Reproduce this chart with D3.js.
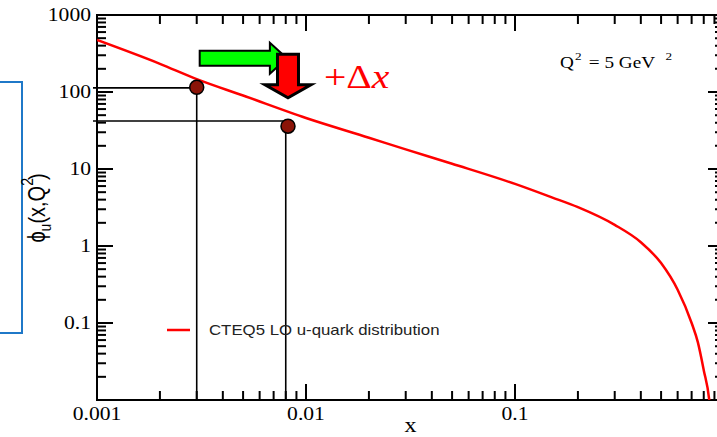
<!DOCTYPE html>
<html>
<head>
<meta charset="utf-8">
<script src="https://cdn.jsdelivr.net/npm/d3@7"></script>
<style>
  html, body { margin: 0; padding: 0; background: #fff; }
  svg { display: block; }
</style>
</head>
<body>
<svg id="chart" width="717" height="437"></svg>
<script>
// CTEQ5 LO u-quark distribution at Q^2 = 5 GeV^2
const xValues = [0.001, 0.002, 0.003, 0.005, 0.01, 0.02, 0.03, 0.05, 0.1, 0.15, 0.2, 0.3, 0.4, 0.5, 0.6, 0.7, 0.75, 0.8, 0.85, 0.87];
const uValues = [473, 232, 147, 90, 46, 25.5, 18.0, 11.7, 6.4, 4.28, 3.19, 1.88, 1.12, 0.60, 0.27, 0.10, 0.056, 0.0244, 0.010, 0.005];

// highlighted points and their guide lines
const markerX = [0.003, 0.0082];
const markerY = [115, 36];
const guideX = [0.003, 0.008];
const guideY = [113, 42];

// tick labels
const xTickLabels = ["0.001", "0.01", "0.1"];
const yTickLabels = ["0.1", "1", "10", "100", "1000"];

(function draw() {
const svg = d3.select("#chart");
const W = 717, H = 437;
const pL = 97, pR = 724, pT = 15, pB = 400;
const SX = 1.2; // horizontal text stretch

const x = d3.scaleLog().domain([0.001, 1]).range([pL, pR]);
const y = d3.scaleLog().domain([0.01, 1000]).range([pB, pT]);

svg.append("rect").attr("width", W).attr("height", H).attr("fill", "#fff");

// blue frame around the y title
svg.append("rect")
  .attr("x", -10).attr("y", 82).attr("width", 32).attr("height", 251)
  .attr("fill", "none").attr("stroke", "#1f78c8").attr("stroke-width", 2);

svg.append("defs").append("clipPath").attr("id", "plotclip")
  .append("rect").attr("x", pL).attr("y", pT).attr("width", pR - pL).attr("height", pB - pT);

// log ticks: majors at decades, minors at 2..9
function logTicks(lo, hi) {
  const out = [];
  for (let e = Math.round(Math.log10(lo)); e <= Math.round(Math.log10(hi)); e++) {
    for (let m = 1; m <= 9; m++) {
      const v = m * Math.pow(10, e);
      if (v >= lo * 0.999 && v <= hi * 1.001) out.push({ v, major: m === 1 });
    }
  }
  return out;
}
const xt = logTicks(0.001, 1);
const yt = logTicks(0.01, 1000);
const MAJ = 16, MIN = 9;
const axisG = svg.append("g").attr("stroke", "#000").attr("stroke-width", 2);

xt.forEach(t => {
  const px = x(t.v), L = t.major ? MAJ : MIN;
  axisG.append("line").attr("x1", px).attr("x2", px).attr("y1", pB).attr("y2", pB - L);
  axisG.append("line").attr("x1", px).attr("x2", px).attr("y1", pT).attr("y2", pT + L);
});
yt.forEach(t => {
  const py = y(t.v), L = t.major ? MAJ : MIN;
  axisG.append("line").attr("x1", pL).attr("x2", pL + L).attr("y1", py).attr("y2", py);
  axisG.append("line").attr("x1", pR).attr("x2", pR - L).attr("y1", py).attr("y2", py);
});
axisG.append("rect").attr("x", pL).attr("y", pT).attr("width", pR - pL).attr("height", pB - pT)
  .attr("fill", "none");

function stretchedText(px, py, str, opts) {
  const t = svg.append("text")
    .attr("transform", `translate(${px},${py}) scale(${SX},1)`)
    .attr("font-family", opts.family || "'Liberation Serif', 'Times New Roman', serif")
    .attr("font-size", opts.size)
    .attr("text-anchor", opts.anchor || "start")
    .attr("fill", opts.fill || "#000")
    .text(str);
  if (opts.style) t.attr("font-style", opts.style);
  return t;
}

// tick labels
xTickLabels.forEach(s => stretchedText(x(+s), 420, s, { size: 18, anchor: "middle" }));
yTickLabels.forEach(s => stretchedText(pL - 6, y(+s) + 6, s, { size: 18, anchor: "end" }));

// axis titles
stretchedText((pL + pR) / 2, 432, "x", { size: 20, anchor: "middle" });

const yl = svg.append("text")
  .attr("transform", `translate(45,208) scale(${SX},1) rotate(-90)`)
  .attr("font-family", "'Liberation Sans', Arial, sans-serif")
  .attr("font-size", 20)
  .attr("text-anchor", "middle")
  .attr("fill", "#000");
yl.append("tspan").text("\u03d5");
yl.append("tspan").attr("font-size", 14).attr("dy", 5).text("u");
yl.append("tspan").attr("dy", -5).text("(x,Q");
yl.append("tspan").attr("font-size", 14).attr("dy", -10).text("2");
yl.append("tspan").attr("dy", 10).attr("dx", -2).text(")");

// guide lines to the highlighted points
const guides = svg.append("g").attr("stroke", "#000").attr("stroke-width", 1.6);
guideX.forEach((gx, i) => {
  guides.append("line").attr("x1", pL - 4).attr("x2", x(gx)).attr("y1", y(guideY[i])).attr("y2", y(guideY[i]));
  guides.append("line").attr("x1", x(gx)).attr("x2", x(gx)).attr("y1", y(guideY[i])).attr("y2", pB);
});

// distribution curve
const line = d3.line().x((d, i) => x(xValues[i])).y(d => y(d)).curve(d3.curveMonotoneX);
svg.append("path")
  .attr("clip-path", "url(#plotclip)")
  .attr("d", line(uValues))
  .attr("fill", "none").attr("stroke", "#ff0000").attr("stroke-width", 2.5);

// highlighted points
markerX.forEach((mx, i) => {
  svg.append("circle").attr("cx", x(mx)).attr("cy", y(markerY[i])).attr("r", 7)
    .attr("fill", "#8b1408").attr("stroke", "#000").attr("stroke-width", 1.5);
});

// step arrows: horizontal shift in x, then drop along the curve
const gy = y(275), gx0 = x(0.0031), gx1 = x(0.0081);
const headL = 17, bodyH = 7.5, headH = 15.5;
svg.append("path")
  .attr("d", `M${gx0},${gy - bodyH} L${gx1 - headL},${gy - bodyH} L${gx1 - headL},${gy - headH} L${gx1},${gy} L${gx1 - headL},${gy + headH} L${gx1 - headL},${gy + bodyH} L${gx0},${gy + bodyH} Z`)
  .attr("fill", "#00ff00").attr("stroke", "#000").attr("stroke-width", 2);

const rx = x(0.0082), ry0 = y(310), ry1 = y(84);
const rBodyW = 10.5, rHeadW = 23, rHeadH = 13;
svg.append("path")
  .attr("d", `M${rx - rBodyW},${ry0} L${rx + rBodyW},${ry0} L${rx + rBodyW},${ry1 - rHeadH} L${rx + rHeadW},${ry1 - rHeadH} L${rx},${ry1} L${rx - rHeadW},${ry1 - rHeadH} L${rx - rBodyW},${ry1 - rHeadH} Z`)
  .attr("fill", "#ff0000").attr("stroke", "#000").attr("stroke-width", 3).attr("stroke-linejoin", "miter");

// +Δx annotation
const dt = svg.append("text")
  .attr("transform", `translate(324,88) scale(${SX},1)`)
  .attr("font-family", "'Liberation Serif', 'Times New Roman', serif")
  .attr("font-size", 33)
  .attr("fill", "#ff0000");
dt.append("tspan").text("+\u0394");
dt.append("tspan").attr("font-style", "italic").text("x");

// Q^2 label
const q = svg.append("text")
  .attr("transform", `translate(560,68) scale(${SX},1)`)
  .attr("font-family", "'Liberation Serif', 'Times New Roman', serif")
  .attr("font-size", 16)
  .attr("fill", "#000");
q.append("tspan").text("Q");
q.append("tspan").attr("font-size", 11).attr("dy", -8).attr("dx", 1).text("2");
q.append("tspan").attr("dy", 8).attr("dx", 2).text(" = 5 GeV ");
q.append("tspan").attr("font-size", 11).attr("dy", -8).attr("dx", 5).text("2");

// legend
svg.append("line").attr("x1", 167).attr("x2", 190).attr("y1", 330).attr("y2", 330)
  .attr("stroke", "#ff0000").attr("stroke-width", 2.5);
stretchedText(209, 335, "CTEQ5 LO u-quark distribution",
  { size: 14, family: "'Liberation Sans', Arial, sans-serif", fill: "#222" });
})();
</script>
</body>
</html>
